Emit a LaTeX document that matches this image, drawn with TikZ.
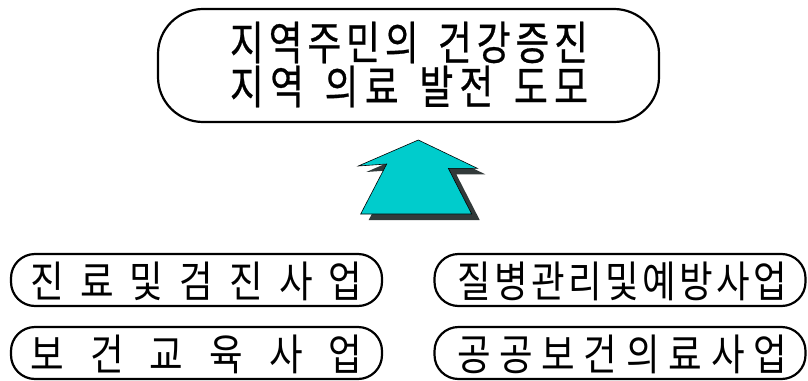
\documentclass[tikz,border=0pt]{standalone}
\usepackage{graphicx}
\usepackage{fontspec}
\newfontfamily\kr{Noto Sans CJK KR}
\newfontfamily\krb[FakeBold=0.6]{Noto Sans CJK KR}
\newcommand\spreadbox[3]{\scalebox{#1}[1]{\makebox[#2][s]{#3}}}
\newcommand\wg{\hspace{18pt}\hfil}
\definecolor{arrowfill}{RGB}{0,204,204}
\definecolor{arrowshadow}{RGB}{50,58,58}
\begin{document}
\begin{tikzpicture}[x=1pt,y=-1pt,
  titlebox/.style={draw=black, line width=2.2pt, rounded corners=45pt, minimum width=501pt, minimum height=113pt, inner sep=0pt},
  itembox/.style={draw=black, line width=2.2pt, rounded corners=24pt, minimum width=371pt, minimum height=52pt, inner sep=0pt},
  titletext/.style={font=\krb\fontsize{46}{50}\selectfont, inner sep=0pt},
  itemtext/.style={font=\kr\fontsize{43}{46}\selectfont, inner sep=0pt}]
\useasboundingbox (0,0) rectangle (808,380);
% title
\node[titlebox] (title) at (408.5,65.5) {};
\node[titletext] (t1) at (409,42.5) {\spreadbox{0.8}{447.5pt}{지\hfil 역\hfil 주\hfil 민\hfil 의\wg 건\hfil 강\hfil 증\hfil 진}};
\node[titletext] (t2) at (409,86.5) {\spreadbox{0.8}{447.5pt}{지\hfil 역\wg 의\hfil 료\wg 발\hfil 전\wg 도\hfil 모}};
% arrow shadow
\fill[arrowshadow] ([shift={(8,6)}]418.3,140) -- ++(59,28.3) -- ++(-29,0) -- ++(23.4,45.7) -- ++(-111,0) -- ++(26,-50) -- ++(-28.4,2) -- cycle;
% arrow
\draw[fill=arrowfill, line width=0.6pt] (418.3,140) -- (477.3,168.3) -- (448.3,168.3) -- (471.7,214) -- (360.7,214) -- (386.7,164) -- (358.3,166) -- cycle;
% items
\node[itembox] (b1) at (196.5,280) {};
\node[itemtext] (b1t) at (196.5,281) {\spreadbox{0.85}{390.6pt}{진\hfil 료\hfil 및\hfil 검\hfil 진\hfil 사\hfil 업}};
\node[itembox] (b2) at (196.5,353) {};
\node[itemtext] (b2t) at (196.5,354) {\spreadbox{0.85}{390.6pt}{보\hfil 건\hfil 교\hfil 육\hfil 사\hfil 업}};
\node[itembox] (b3) at (620,280) {};
\node[itemtext] (b3t) at (622,281) {\spreadbox{0.85}{388.2pt}{질\hfil 병\hfil 관\hfil 리\hfil 및\hfil 예\hfil 방\hfil 사\hfil 업}};
\node[itembox] (b4) at (620,353) {};
\node[itemtext] (b4t) at (622,354) {\spreadbox{0.85}{388.2pt}{공\hfil 공\hfil 보\hfil 건\hfil 의\hfil 료\hfil 사\hfil 업}};
\end{tikzpicture}
\end{document}
